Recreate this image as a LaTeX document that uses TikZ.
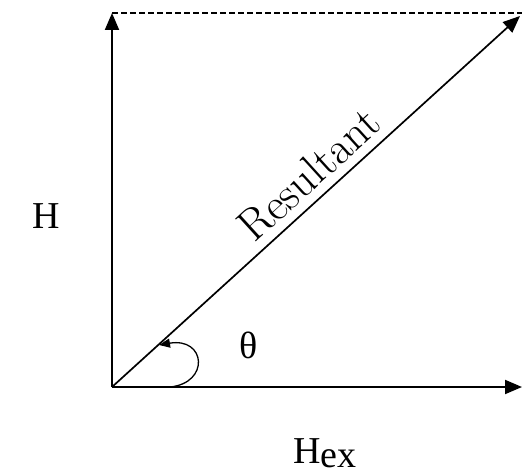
\documentclass[tikz,border=0pt]{standalone}
\usepackage{fontspec}
\newfontfamily\timesf{Liberation Serif}
\usetikzlibrary{arrows.meta,calc}
\tikzset{
  axis/.style={line width=2pt,-{Triangle[length=17pt,width=14pt]}},
  resline/.style={line width=1.7pt,-{Triangle[length=17pt,width=14pt]}},
  dashline/.style={line width=1.5pt,dash pattern=on 6pt off 3pt},
  arcline/.style={line width=1.3pt,-{Triangle[length=11pt,width=9pt]}},
  tlabel/.style={font=\timesf\fontsize{38}{40}\selectfont,inner sep=0pt},
  rlabel/.style={font=\fontsize{45}{47}\selectfont,inner sep=0pt}
}
\begin{document}
\begin{tikzpicture}[x=1pt,y=1pt]
\useasboundingbox (0,0) rectangle (522,475);
\coordinate (O) at (112,88);
\coordinate (V) at (112,462);
\coordinate (Hx) at (522,88);
\coordinate (R) at (520,459);
\coordinate (D) at (522,462);
\coordinate (A0) at (170,88);
\coordinate (A1) at (159,130);
\draw[dashline] (V) -- (D);
\draw[axis] (O) -- (V);
\draw[axis] (O) -- (Hx);
\draw[resline] (O) -- (R);
\draw[arcline] (A0) .. controls (210,92) and (206,138) .. (A1);
\node[rlabel,rotate=42.3,anchor=base] (res) at ($($(O)!0.5!(R)$)+(3,16)$) {Resultant};
\node[tlabel] (h) at (46,259) {H};
\node[tlabel] (th) at (249,130) {θ};
\node[tlabel,anchor=base west] (hex) at (293,12) {H\raisebox{-4pt}{ex}};
\end{tikzpicture}
\end{document}
